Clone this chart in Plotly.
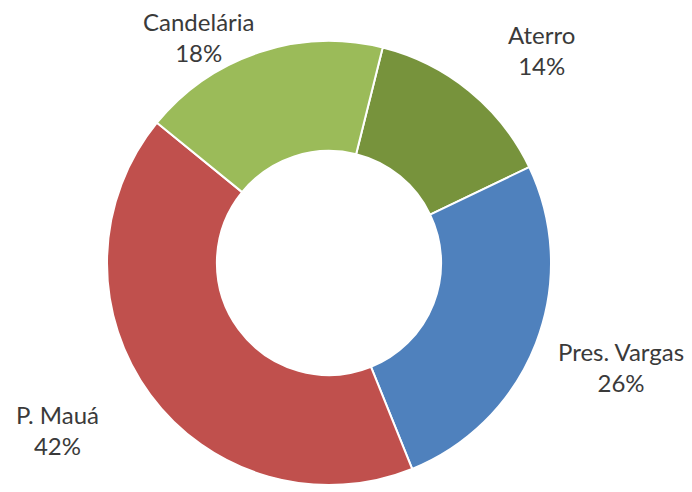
import plotly.graph_objects as go

labels = ["Aterro", "Pres. Vargas", "P. Mauá", "Candelária"]
values = [14, 26, 42, 18]
colors = ["#77933C", "#4F81BD", "#C0504D", "#9BBB59"]

W, H = 692, 492
OFF = 8  # page body margin offset
cx, cy, R = 329 - OFF, 263 - OFF, 222

fig = go.Figure(go.Pie(
    labels=labels,
    values=values,
    sort=False,
    direction="clockwise",
    rotation=14,
    hole=0.505,
    textinfo="none",
    hoverinfo="label+percent",
    marker=dict(colors=colors, line=dict(color="white", width=2)),
    domain=dict(x=[(cx - R) / W, (cx + R) / W], y=[(H - cy - R) / H, (H - cy + R) / H]),
    showlegend=False,
))

# label anchor positions in window pixels (centre of the two-line label)
label_pos = {"Aterro": (541, 50), "Pres. Vargas": (621, 367), "P. Mauá": (57, 430), "Candelária": (198, 37)}
for lab, val in zip(labels, values):
    px, py = label_pos[lab]
    fig.add_annotation(
        x=(px - OFF) / W, y=(H - (py - OFF)) / H, xref="paper", yref="paper",
        text=f"{lab}<br>{val}%", showarrow=False,
        font=dict(family="Lato", size=24, color="#3a3a3a"),
        xanchor="center", yanchor="middle", align="center",
    )

fig.update_layout(
    width=W, height=H,
    margin=dict(l=0, r=0, t=0, b=0),
    paper_bgcolor="white", plot_bgcolor="white",
)

fig.write_html("out.html")
